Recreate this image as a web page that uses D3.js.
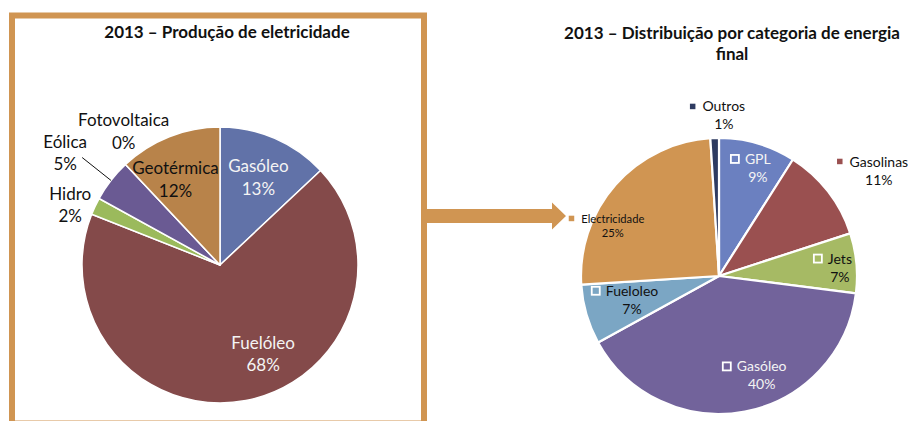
<!DOCTYPE html>
<html>
<head>
<meta charset="utf-8">
<script src="https://cdn.jsdelivr.net/npm/d3@7"></script>
<style>
  body { margin: 0; background: #fff; }
  svg { display: block; }
  text { font-family: Lato, "Open Sans", sans-serif; }
</style>
</head>
<body>
<svg id="chart" width="908" height="421"></svg>
<script>
// 2013 – electricity production by source (%)
const prodLabels = ["Gasóleo", "Fuelóleo", "Hidro", "Eólica", "Fotovoltaica", "Geotérmica"];
const prodValues = [13, 68, 2, 5, 0, 12];

// 2013 – final energy consumption by category (%)
const catLabels = ["GPL", "Gasolinas", "Jets", "Gasóleo", "Fueloleo", "Electricidade", "Outros"];
const catValues = [9, 11, 7, 40, 7, 25, 1];

const prodTitle = ["2013 – Produção de eletricidade"];
const catTitle = ["2013 – Distribuição por categoria de energia", "final"];

const prodColors = d3.scaleOrdinal()
  .domain(prodLabels)
  .range(["#6172a8", "#844a4a", "#9bba5c", "#6a5a93", "#4bacc6", "#b8834a"]);
const catColors = d3.scaleOrdinal()
  .domain(catLabels)
  .range(["#6b80c0", "#9a5050", "#a6ba64", "#72639b", "#7ba6c4", "#d09552", "#2e3b61"]);

const accent = "#d09552";
const svg = d3.select("#chart");

// frame around the production chart and connecting arrow
svg.append("rect")
  .attr("x", 12).attr("y", 15.5).attr("width", 412).attr("height", 408)
  .attr("fill", "none").attr("stroke", accent).attr("stroke-width", 6);

svg.append("path")
  .attr("d", "M427,209 H552 V202.5 L566,216 L552,229.5 V223 H427 Z")
  .attr("fill", accent);

// titles
function drawTitle(lines, cx, y0, lh) {
  svg.append("g").selectAll("text").data(lines).join("text")
    .attr("x", cx).attr("y", (d, i) => y0 + i * lh)
    .attr("text-anchor", "middle")
    .attr("font-weight", 700).attr("font-size", 17).attr("fill", "#111")
    .text(d => d);
}
drawTitle(prodTitle, 227, 38, 21);
drawTitle(catTitle, 732, 39, 21);

// label placement: radius as fraction of R from the slice mid-angle, plus a nudge
const prodLayout = {
  "Gasóleo":      { r: 0.7, dx: 0,   dy: -4,  fill: "#f4f4f4" },
  "Fuelóleo":     { r: 0.7, dx: 25,  dy: -11, fill: "#f4f4f4" },
  "Hidro":        { r: 1.2, dx: 0,   dy: 5,   fill: "#111" },
  "Eólica":       { r: 1.2, dx: -24, dy: -16, fill: "#111", leader: true },
  "Fotovoltaica": { r: 1.2, dx: 17,  dy: -18, fill: "#111" },
  "Geotérmica":   { r: 0.7, dx: -9,  dy: -1,  fill: "#111" }
};
const catLayout = {
  "GPL":           { r: 0.8, dx: 8,  dy: -6,  fill: "#f4f4f4", key: "box" },
  "Gasolinas":     { r: 1.2, dx: 29, dy: -8,  fill: "#111",    key: "dot" },
  "Jets":          { r: 0.8, dx: 11, dy: -2,  fill: "#111",    key: "box" },
  "Gasóleo":       { r: 0.8, dx: 22, dy: -13, fill: "#f4f4f4", key: "box" },
  "Fueloleo":      { r: 0.8, dx: 19, dy: -11, fill: "#111",    key: "box" },
  "Electricidade": { r: 1.2, dx: 18, dy: 56,  fill: "#111",    key: "dot", small: true },
  "Outros":        { r: 1.2, dx: 10, dy: 1,   fill: "#111",    key: "dot" }
};

function polar(angle, r) {
  return [Math.sin(angle) * r, -Math.cos(angle) * r];
}

function drawPie(opts) {
  const { labels, values, colors, cx, cy, R, sep, layout, fontSize, lineH } = opts;
  const data = labels.map((l, i) => ({ label: l, value: values[i] }));
  const pie = d3.pie().sort(null).value(d => d.value);
  const arc = d3.arc().innerRadius(0).outerRadius(R);
  const arcs = pie(data);
  const g = svg.append("g").attr("transform", `translate(${cx},${cy})`);

  g.selectAll("path.slice").data(arcs).join("path")
    .attr("class", "slice")
    .attr("d", arc)
    .attr("fill", d => colors(d.data.label))
    .attr("stroke", "#fff").attr("stroke-width", sep).attr("stroke-linejoin", "round");

  const lg = g.append("g");
  arcs.forEach(a => {
    const L = layout[a.data.label];
    const mid = (a.startAngle + a.endAngle) / 2;
    const [px, py] = polar(mid, L.r * R);
    const x = px + L.dx, y = py + L.dy;
    const fs = L.small ? fontSize * 0.8 : fontSize;
    const lh = L.small ? lineH * 0.8 : lineH;

    const name = lg.append("text")
      .attr("x", x).attr("y", y).attr("text-anchor", "middle")
      .attr("font-size", fs).attr("fill", L.fill)
      .text(a.data.label);
    lg.append("text")
      .attr("x", x).attr("y", y + lh).attr("text-anchor", "middle")
      .attr("font-size", fs).attr("fill", L.fill)
      .text(a.data.value + "%");

    if (L.key) {
      const w = name.node().getComputedTextLength();
      const s = L.key === "box" ? 8 : 5.5;
      const gap = L.key === "box" ? 6 : 7;
      lg.append("rect")
        .attr("x", x - w / 2 - gap - s).attr("y", y - fs * 0.36 - s / 2)
        .attr("width", s).attr("height", s)
        .attr("fill", colors(a.data.label))
        .attr("stroke", L.key === "box" ? "#fff" : "none")
        .attr("stroke-width", 1.8);
    }
    if (L.leader) {
      const [ex, ey] = polar(mid, R);
      lg.append("line")
        .attr("x1", x + 17).attr("y1", y + 10)
        .attr("x2", ex).attr("y2", ey)
        .attr("stroke", "#111").attr("stroke-width", 1);
    }
  });
}

drawPie({
  labels: prodLabels, values: prodValues, colors: prodColors,
  cx: 220, cy: 265, R: 138, sep: 1.5, layout: prodLayout,
  fontSize: 17, lineH: 22.5
});

drawPie({
  labels: catLabels, values: catValues, colors: catColors,
  cx: 719, cy: 276, R: 138, sep: 2.2, layout: catLayout,
  fontSize: 14, lineH: 18
});
</script>
</body>
</html>
